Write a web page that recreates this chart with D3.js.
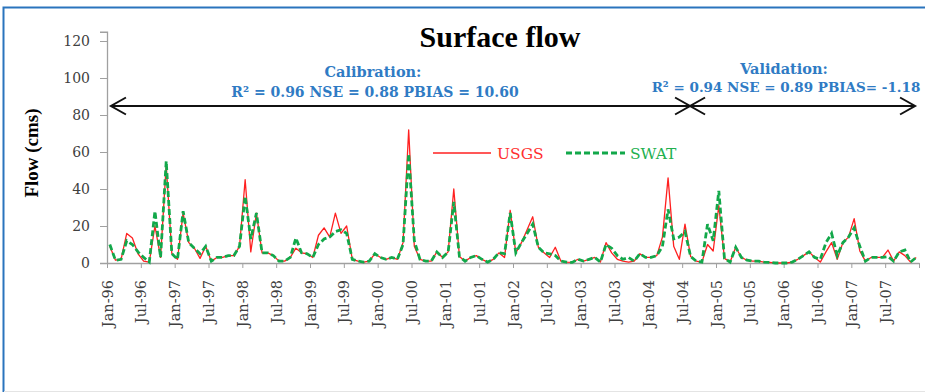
<!DOCTYPE html>
<html>
<head>
<meta charset="utf-8">
<script src="https://cdn.jsdelivr.net/npm/d3@7/dist/d3.min.js"></script>
<style>
  html, body { margin: 0; padding: 0; background: #fff; }
  svg { display: block; }
</style>
</head>
<body>
<svg id="chart" width="925" height="392"></svg>
<script>
// monthly flow, Jan-96 .. Dec-07 (cms)
const usgs = [
  9, 1.5, 2, 16, 13.5, 5, 1, 0.5, 20, 3, 53, 5,
  2, 27, 11, 8, 2.5, 9, 1, 3, 3, 4, 4, 9,
  45, 6, 27, 5.5, 5.5, 4, 1, 1, 3, 8, 5.5, 5,
  3, 15, 19, 14, 27, 16, 20, 2, 1, 0.5, 1, 5,
  3, 2, 3, 2, 11, 72, 9, 2, 1, 1, 6, 3,
  6, 40, 3.5, 1, 3, 4, 2, 0.5, 2, 5.5, 3, 28.5,
  5.5, 11, 18, 25, 8.5, 5.5, 3, 8.5, 1, 0.5, 0.3, 2,
  1, 2, 3, 0.5, 11, 5.5, 2, 1, 0.5, 1, 5, 3,
  3, 4, 14, 46, 9, 2, 21, 3.5, 1, 0.5, 10, 6.5,
  31, 2.5, 0.5, 8.5, 3, 1.5, 1, 1, 0.5, 0.3, 0, 0,
  0, 0.5, 2, 4, 6, 3, 0.5, 6, 11, 2, 11, 14,
  24, 6.5, 1, 3, 3, 3, 7, 1, 6, 4, 0.5, 3
];
const swat = [
  10, 1.5, 2, 12, 10, 6, 3, 0.5, 28, 3, 55, 5,
  2, 28, 11, 8, 5, 9, 1, 3, 3, 4, 4, 9,
  36, 13, 27, 5.5, 5.5, 4, 1, 1, 3, 13.5, 5.5, 5,
  3, 10, 13, 14, 17, 18, 16, 2, 1, 0.5, 1, 5,
  3, 2, 3, 2, 10, 59, 12, 2, 1, 1, 6, 3,
  6, 33, 3.5, 1, 3, 4, 2, 0.5, 2, 5.5, 5, 27,
  5.5, 11, 16, 21, 8.5, 5.5, 5, 4, 1, 0.5, 0.3, 2,
  1, 2, 3, 0.5, 10, 8, 4, 2, 3, 1, 5, 3,
  3, 4, 9, 29, 13, 14, 17, 3.5, 1, 0.5, 21, 12,
  39, 2.5, 0.5, 8.5, 3, 1.5, 1, 1, 0.5, 0.3, 0, 0,
  0, 0.5, 2, 4, 6, 3, 2, 11, 16, 4, 11, 14,
  19, 9, 1, 3, 3, 3, 3.5, 1, 6, 7, 0.5, 3
];
const tickLabels = [
  "Jan-96", "Jul-96", "Jan-97", "Jul-97", "Jan-98", "Jul-98",
  "Jan-99", "Jul-99", "Jan-00", "Jul-00", "Jan-01", "Jul-01",
  "Jan-02", "Jul-02", "Jan-03", "Jul-03", "Jan-04", "Jul-04",
  "Jan-05", "Jul-05", "Jan-06", "Jul-06", "Jan-07", "Jul-07"
];
const yTicks = [0, 20, 40, 60, 80, 100, 120];
const splitMonth = 103.4; // end of calibration period

const times = "'Liberation Serif', 'Times New Roman', serif";
const cambria = "'DejaVu Serif', serif";
const blue = "#2f7bc4";

const svg = d3.select("#chart");

// outer frame
svg.append("path")
  .attr("d", "M3.5,392 V7.5 H925")
  .attr("fill", "none")
  .attr("stroke", "#2a74bd")
  .attr("stroke-width", 2);
svg.append("line")
  .attr("x1", 4).attr("x2", 925).attr("y1", 391.5).attr("y2", 391.5)
  .attr("stroke", "#e4e4e4");

const x = d3.scaleLinear().domain([0, 144]).range([107, 919]);
const y = d3.scaleLinear().domain([0, 125]).range([263, 31.75]);

// y axis
const yAxis = svg.append("g")
  .attr("transform", "translate(107,0)")
  .call(d3.axisLeft(y).tickValues(yTicks).tickSize(7).tickPadding(10));
yAxis.select(".domain").attr("stroke", "#a0a0a0").attr("stroke-width", 1.3);
yAxis.selectAll(".tick line").attr("stroke", "#a0a0a0");
yAxis.selectAll("text")
  .attr("font-family", cambria).attr("font-size", 14).attr("fill", "#404040");

// x axis
const xAxis = svg.append("g")
  .attr("transform", "translate(0,263)")
  .call(d3.axisBottom(x)
    .tickValues(d3.range(0, 145, 6))
    .tickFormat((d, i) => tickLabels[i] || "")
    .tickSize(5)
    .tickSizeOuter(0));
xAxis.select(".domain").attr("stroke", "#a0a0a0").attr("stroke-width", 1.3);
xAxis.selectAll(".tick line").attr("stroke", "#a0a0a0");
xAxis.selectAll("text")
  .attr("font-family", cambria).attr("font-size", 14.5).attr("fill", "#404040")
  .attr("transform", "rotate(-90)")
  .attr("text-anchor", "end")
  .attr("x", -17).attr("y", 0).attr("dy", "0.35em");

// lines
const line = d3.line()
  .x((d, i) => x(i + 0.5))
  .y(d => y(d));

svg.append("path")
  .datum(usgs)
  .attr("fill", "none")
  .attr("stroke", "#ff2020")
  .attr("stroke-width", 1.3)
  .attr("stroke-linejoin", "round")
  .attr("d", line);

svg.append("path")
  .datum(swat)
  .attr("fill", "none")
  .attr("stroke", "#12a84a")
  .attr("stroke-width", 2.8)
  .attr("stroke-dasharray", "6,3")
  .attr("d", line);

// title
svg.append("text")
  .attr("x", 500).attr("y", 47)
  .attr("text-anchor", "middle")
  .attr("font-family", times).attr("font-weight", "bold").attr("font-size", 30)
  .text("Surface flow");

// y axis title
svg.append("text")
  .attr("transform", "translate(38,153) rotate(-90)")
  .attr("text-anchor", "middle")
  .attr("font-family", times).attr("font-weight", "bold").attr("font-size", 19)
  .text("Flow (cms)");

// calibration / validation arrows
const arrowY = 106;
const head = 15, wing = 8.5;
function chevron(tipX, dir) {
  svg.append("path")
    .attr("d", `M${tipX - dir * head},${arrowY - wing} L${tipX},${arrowY} L${tipX - dir * head},${arrowY + wing}`)
    .attr("fill", "none").attr("stroke", "#111").attr("stroke-width", 2);
}
const sx = x(splitMonth);
const calL = x(0.7), valR = x(143.3);
svg.append("line").attr("x1", calL).attr("x2", valR).attr("y1", arrowY).attr("y2", arrowY)
  .attr("stroke", "#111").attr("stroke-width", 2);
chevron(calL, -1);
chevron(sx, 1);
chevron(sx, -1);
chevron(valR, 1);

// annotations
const ann = [
  { t: "Calibration:", x: 373, y: 77, size: 14.5 },
  { t: "R² = 0.96  NSE = 0.88 PBIAS = 10.60", x: 375, y: 97, size: 14 },
  { t: "Validation:", x: 784, y: 74, size: 14.5 },
  { t: "R² = 0.94 NSE = 0.89 PBIAS= -1.18", x: 786, y: 92, size: 13.5 }
];
svg.selectAll("text.ann").data(ann).enter().append("text")
  .attr("class", "ann")
  .attr("x", d => d.x).attr("y", d => d.y)
  .attr("text-anchor", "middle")
  .attr("font-family", cambria)
  .attr("font-weight", "bold")
  .attr("font-size", d => d.size)
  .attr("fill", blue)
  .text(d => d.t);

// legend
const leg = svg.append("g");
leg.append("line").attr("x1", 433).attr("x2", 491).attr("y1", 153).attr("y2", 153)
  .attr("stroke", "#ff2020").attr("stroke-width", 1.3);
leg.append("text").attr("x", 497).attr("y", 159)
  .attr("font-family", cambria).attr("font-size", 15.5).attr("fill", "#ff3030")
  .text("USGS");
leg.append("line").attr("x1", 566).attr("x2", 625).attr("y1", 153).attr("y2", 153)
  .attr("stroke", "#12a84a").attr("stroke-width", 2.8).attr("stroke-dasharray", "6,3");
leg.append("text").attr("x", 630).attr("y", 159)
  .attr("font-family", cambria).attr("font-size", 15.5).attr("fill", "#22b04f")
  .text("SWAT");
</script>
</body>
</html>
